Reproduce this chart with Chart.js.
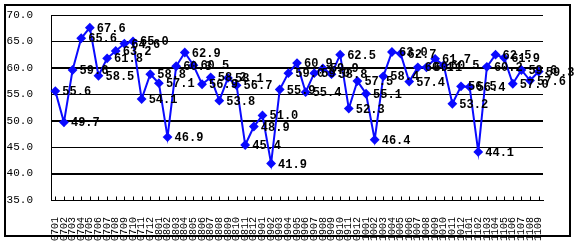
<!DOCTYPE html>
<html>
<head>
<meta charset="utf-8">
<script src="https://cdn.jsdelivr.net/npm/chart.js@4/dist/chart.umd.min.js"></script>
<style>body{margin:0;background:#fff}</style>
</head>
<body>
<canvas id="myGraph" width="576" height="242"></canvas>
<script>
// Meses (año/mes) y valores
const categories = [
    "0701", "0702", "0703", "0704", "0705", "0706", "0707", "0708", "0709", "0710", "0711", "0712",
    "0801", "0802", "0803", "0804", "0805", "0806", "0807", "0808", "0809", "0810", "0811", "0812",
    "0901", "0902", "0903", "0904", "0905", "0906", "0907", "0908", "0909", "0910", "0911", "0912",
    "1001", "1002", "1003", "1004", "1005", "1006", "1007", "1008", "1009", "1010", "1011", "1012",
    "1101", "1102", "1103", "1104", "1105", "1106", "1107", "1108", "1109"
];
const values = [
    55.6, 49.7, 59.6, 65.6, 67.6, 58.5, 61.8, 63.2, 64.6, 65.0, 54.1, 58.8,
    57.1, 46.9, 60.3, 62.9, 60.5, 56.9, 58.2, 53.8, 58.1, 56.7, 45.4, 48.9,
    51.0, 41.9, 55.9, 59.0, 60.9, 55.4, 59.0, 59.9, 58.8, 62.5, 52.3, 57.5,
    55.1, 46.4, 58.4, 63.0, 62.7, 57.4, 60.1, 60.1, 61.7, 60.5, 53.2, 56.5,
    56.4, 44.1, 60.2, 62.5, 61.9, 57.0, 59.6, 57.6, 59.3
];
const yMin = 35;
const yMax = 70;
const yStep = 5;

const lineBlue = "#0a0aff";

// Rejilla y ejes dibujados con las escalas del gráfico
const gridAndAxes = {
    id: "gridAndAxes",
    beforeDatasetsDraw: (chart) => {
        try {
            const c = chart.ctx;
            const yScale = chart.scales.y;
            const area = chart.chartArea;
            c.save();
            c.strokeStyle = "#000";
            c.lineWidth = 1;
            c.beginPath();
            for (let v = yMin + yStep; v < yMax; v += yStep) {
                const py = Math.round(yScale.getPixelForValue(v)) + 0.5;
                c.moveTo(area.left, py);
                c.lineTo(area.right, py);
            }
            c.stroke();
            c.restore();
        } catch (e) {
            console.error(e);
        }
        try {
            const c = chart.ctx;
            const xScale = chart.scales.x;
            const yScale = chart.scales.y;
            const left = Math.round(chart.chartArea.left) + 0.5;
            const right = Math.round(chart.chartArea.right) + 0.5;
            const top = Math.round(yScale.getPixelForValue(yMax)) + 0.5;
            const bottom = Math.round(yScale.getPixelForValue(yMin)) + 0.5;
            c.save();
            c.strokeStyle = "#000";
            c.lineWidth = 1;
            c.beginPath();
            c.moveTo(left + 3, top);
            c.lineTo(left, top);
            c.lineTo(left, bottom);
            c.lineTo(right, bottom);
            c.stroke();
            c.beginPath();
            for (let i = 0; i < categories.length; i++) {
                const px = Math.round(xScale.getPixelForValue(i)) + 0.5;
                c.moveTo(px, bottom);
                c.lineTo(px, bottom - 4);
            }
            c.stroke();
            c.restore();
        } catch (e) {
            console.error(e);
        }
    },
};

// Etiquetas de valor a la derecha de cada punto
const valueLabels = {
    id: "valueLabels",
    afterDatasetsDraw: (chart) => {
        try {
            const c = chart.ctx;
            const meta = chart.getDatasetMeta(0);
            c.save();
            c.font = "bold 12px 'Liberation Mono'";
            c.fillStyle = "#000";
            c.textAlign = "left";
            c.textBaseline = "middle";
            meta.data.forEach((pt, i) => {
                c.fillText(values[i].toFixed(1), pt.x + 7, pt.y + 1);
            });
            c.restore();
        } catch (e) {
            console.error(e);
        }
    },
};

// Marco exterior
const outerFrame = {
    id: "outerFrame",
    afterDraw: (chart) => {
        const c = chart.ctx;
        c.save();
        c.strokeStyle = "#000";
        c.lineWidth = 2;
        c.strokeRect(5, 5, 565, 231);
        c.restore();
    },
};

const ctx = document.getElementById("myGraph").getContext("2d");

const myGraph = new Chart(ctx, {
    type: "line",
    data: {
        labels: categories,
        datasets: [
            {
                data: values,
                borderColor: lineBlue,
                pointBackgroundColor: lineBlue,
                pointBorderColor: lineBlue,
                borderWidth: 2,
                pointStyle: "rectRot",
                pointRadius: 3.5,
            },
        ],
    },
    options: {
        responsive: false,
        animation: false,
        layout: { padding: { top: 15, right: 33, left: 0, bottom: 0 } },
        plugins: { legend: { display: false } },
        scales: {
            x: {
                offset: true,
                grid: { display: false },
                border: { display: true, color: "#000", width: 1 },
                ticks: {
                    autoSkip: false,
                    minRotation: 90,
                    maxRotation: 90,
                    padding: 9,
                    color: "#000",
                    font: { family: "'Liberation Mono'", size: 10 },
                },
                afterFit: (s) => { s.height = 42; },
            },
            y: {
                min: yMin,
                max: yMax,
                grid: { display: true, color: "#000", drawTicks: true, tickLength: 10, tickColor: "rgba(0,0,0,0)" },
                border: { display: true, color: "#000", width: 1 },
                ticks: {
                    stepSize: yStep,
                    padding: 8,
                    color: "#000",
                    font: { family: "'Liberation Mono'", size: 11 },
                    callback: (v) => Number(v).toFixed(1),
                },
                afterFit: (s) => { s.width = 51; },
            },
        },
    },
    plugins: [gridAndAxes, valueLabels, outerFrame],
});
</script>
</body>
</html>
